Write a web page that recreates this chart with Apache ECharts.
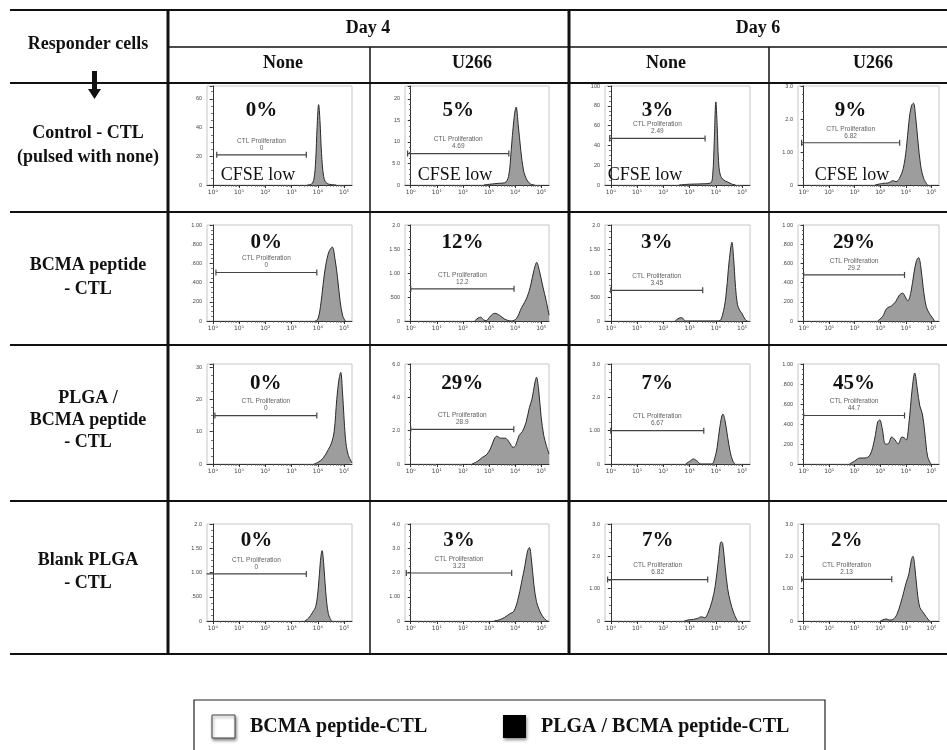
<!DOCTYPE html>
<html>
<head>
<meta charset="utf-8">
<script src="https://cdn.jsdelivr.net/npm/echarts@6.0.0/dist/echarts.min.js"></script>
<style>
html, body { margin: 0; padding: 0; background: #fff; }
#main { width: 947px; height: 750px; }
</style>
</head>
<body>
<div id="main"></div>
<script>
// histograms: [log10 fluorescence, count]
// row 1: Control - CTL
var ctlD4None = [[3.6,0],[3.75,0.5],[3.85,4],[3.92,18],[3.97,40],[4.03,56],[4.08,45],[4.14,22],[4.22,6],[4.32,1.5],[4.5,0.3],[4.7,0]];
var ctlD4U266 = [[2.8,0],[3.2,0.3],[3.4,0.4],[3.6,0.5],[3.75,2],[3.85,8],[3.95,15],[4.04,18.1],[4.12,14],[4.22,8],[4.32,3.5],[4.45,1.2],[4.6,0.2],[4.75,0]];
var ctlD6None = [[2.6,0],[3.0,0.8],[3.5,1.2],[3.8,2],[3.88,10],[3.94,45],[4.0,84],[4.05,60],[4.1,25],[4.17,10],[4.3,5],[4.45,3],[4.6,1],[4.75,0]];
var ctlD6U266 = [[2.8,0],[3.1,0.05],[3.3,0.06],[3.5,0.13],[3.62,0.1],[3.75,0.2],[3.9,0.5],[4.02,1.1],[4.12,1.9],[4.22,2.4],[4.3,2.48],[4.38,2.1],[4.48,1.3],[4.58,0.6],[4.7,0.2],[4.85,0]];
// row 2: BCMA peptide - CTL
var bcmaD4None = [[3.9,0],[4.0,0.02],[4.1,0.15],[4.2,0.38],[4.3,0.58],[4.42,0.72],[4.55,0.77],[4.65,0.65],[4.75,0.45],[4.85,0.2],[4.95,0.05],[5.05,0]];
var bcmaD4U266 = [[2.45,0],[2.58,0.06],[2.68,0.08],[2.8,0.02],[2.9,0.01],[3.05,0.1],[3.22,0.16],[3.4,0.12],[3.6,0.04],[3.85,0],[4.05,0.05],[4.25,0.28],[4.45,0.48],[4.6,0.75],[4.72,1.05],[4.83,1.22],[4.93,1.05],[5.05,0.75],[5.2,0.4],[5.3,0.12]];
var bcmaD6None = [[2.45,0],[2.6,0.06],[2.7,0.07],[2.85,0],[4.12,0],[4.25,0.12],[4.38,0.5],[4.48,1.1],[4.56,1.5],[4.61,1.64],[4.67,1.35],[4.75,0.7],[4.82,0.35],[4.9,0.23],[5.0,0.15],[5.12,0.03],[5.2,0]];
var bcmaD6U266 = [[2.9,0],[3.1,0.05],[3.25,0.13],[3.45,0.16],[3.6,0.2],[3.75,0.27],[3.88,0.29],[3.98,0.25],[4.08,0.21],[4.2,0.3],[4.32,0.5],[4.42,0.63],[4.5,0.66],[4.58,0.58],[4.68,0.35],[4.8,0.15],[4.92,0.08],[5.05,0.03],[5.12,0]];
// row 3: PLGA / BCMA peptide - CTL
var plgaD4None = [[3.85,0],[4.0,0.5],[4.2,1.8],[4.4,4.5],[4.52,6.5],[4.62,10],[4.72,20],[4.8,26],[4.87,28.4],[4.94,22],[5.05,8],[5.15,3],[5.3,0.3]];
var plgaD4U266 = [[2.35,0],[2.55,0.15],[2.75,0.4],[2.9,0.55],[3.05,0.9],[3.2,1.5],[3.3,1.67],[3.45,1.55],[3.62,1.55],[3.78,1.3],[3.92,1.0],[4.02,1.1],[4.15,1.7],[4.28,1.95],[4.42,2.5],[4.55,3.4],[4.65,3.9],[4.75,4.8],[4.82,5.2],[4.9,4.5],[5.0,2.8],[5.1,1.7],[5.2,1.1],[5.3,0.6]];
var plgaD6None = [[2.85,0],[3.0,0.08],[3.15,0.15],[3.3,0.08],[3.42,0],[3.85,0],[3.95,0.15],[4.05,0.5],[4.15,1.1],[4.27,1.5],[4.35,1.3],[4.45,0.8],[4.55,0.35],[4.63,0.12],[4.72,0]];
var plgaD6U266 = [[1.8,0],[2.0,0.03],[2.2,0.06],[2.4,0.06],[2.6,0.09],[2.78,0.25],[2.9,0.42],[2.98,0.44],[3.08,0.35],[3.2,0.2],[3.3,0.2],[3.45,0.27],[3.58,0.24],[3.7,0.2],[3.85,0.27],[3.95,0.26],[4.02,0.24],[4.12,0.4],[4.25,0.75],[4.35,0.91],[4.45,0.75],[4.55,0.58],[4.65,0.5],[4.75,0.3],[4.85,0.08],[4.98,0]];
// row 4: Blank PLGA - CTL
var blankD4None = [[3.5,0],[3.65,0.06],[3.8,0.18],[3.92,0.3],[4.02,0.7],[4.1,1.25],[4.16,1.45],[4.22,1.2],[4.3,0.6],[4.4,0.15],[4.52,0]];
var blankD4U266 = [[3.2,0],[3.4,0.05],[3.6,0.15],[3.8,0.3],[3.95,0.4],[4.1,0.85],[4.25,1.6],[4.38,2.3],[4.48,2.9],[4.55,3.03],[4.62,2.6],[4.72,1.5],[4.82,0.8],[4.93,0.45],[5.05,0.2],[5.2,0.02],[5.25,0]];
var blankD6None = [[2.8,0],[3.0,0.04],[3.15,0.05],[3.3,0.08],[3.45,0.13],[3.58,0.1],[3.7,0.25],[3.85,0.6],[3.98,1.1],[4.1,1.9],[4.2,2.45],[4.26,2.4],[4.35,1.7],[4.45,1.0],[4.55,0.6],[4.68,0.25],[4.82,0]];
var blankD6U266 = [[3.0,0],[3.15,0.05],[3.25,0.06],[3.35,0.03],[3.5,0.05],[3.65,0.2],[3.8,0.55],[3.92,0.9],[4.02,1.2],[4.12,1.45],[4.22,1.9],[4.28,2.0],[4.35,1.7],[4.45,0.9],[4.55,0.42],[4.65,0.3],[4.78,0.15],[4.93,0]];

var panels = [ctlD4None, ctlD4U266, ctlD6None, ctlD6U266,
              bcmaD4None, bcmaD4U266, bcmaD6None, bcmaD6U266,
              plgaD4None, plgaD4U266, plgaD6None, plgaD6U266,
              blankD4None, blankD4U266, blankD6None, blankD6U266];

var percentLabels = ['0%','5%','3%','9%', '0%','12%','3%','29%', '0%','29%','7%','45%', '0%','3%','7%','2%'];
var gateValues = ['0','4.69','2.49','6.82', '0','12.2','3.45','29.2', '0','28.9','6.67','44.7', '0','3.23','6.82','2.13'];
var gateFrom = [0.15,-0.12,-0.04,-0.08, 0.12,0,0,0, 0.08,0,0,0, -0.24,-0.17,-0.12,-0.08];
var gateTo = [3.56,3.76,3.59,3.76, 3.96,3.96,3.5,3.95, 3.96,3.95,3.54,3.95, 3.56,3.87,3.69,3.45];
var gateY = [21,7.3,47,1.28, 0.505,0.67,0.64,0.48, 15,2.08,1.0,0.485, 0.97,1.98,1.28,1.29];

var yMax = [69,23,100,3, 1,2,2,1, 31,6,3,1, 2,4,3,3];
var yStep = [20,5,20,1, 0.2,0.5,0.5,0.2, 10,2,1,0.2, 0.5,1,1,1];
var ticks20 = ['0','20','40','60','80','100'];
var ticks5 = ['0','5.0','10','15','20'];
var ticks1 = ['0','1.00','2.0','3.0','4.0'];
var ticksFrac = ['0','.200','.400','.600','.800','1.00'];
var ticksHalf = ['0','.500','1.00','1.50','2.0'];
var ticks10 = ['0','10','20','30'];
var ticks2 = ['0','2.0','4.0','6.0'];
var yTickSets = [ticks20, ticks5, ticks20, ticks1, ticksFrac, ticksHalf, ticksHalf, ticksFrac,
                 ticks10, ticks2, ticks1, ticksFrac, ticksHalf, ticks1, ticks1, ticks1];

var decades = [0, 1, 2, 3, 4, 5];
var decadeLabels = ['10⁰','10¹','10²','10³','10⁴','10⁵'];

var rowNames = ['Control - CTL\n(pulsed with none)', 'BCMA peptide\n- CTL', 'PLGA /\nBCMA peptide\n- CTL', 'Blank PLGA\n- CTL'];
var colNames = ['None', 'U266', 'None', 'U266'];
var dayNames = ['Day 4', 'Day 6'];
var legendNames = ['BCMA peptide-CTL', 'PLGA / BCMA peptide-CTL'];

// layout
var X_MIN = -0.22, X_MAX = 5.3;
var colLeft = [207, 405, 605, 798];
var colWidth = [145, 144, 145, 141];
var rowTop = [86, 225, 364, 524];
var rowHeight = [99, 96, 100, 97];
var pctY = [111, 243, 384, 541];
var cfseOffset = [51, 50, 40, 54];
var SERIF = '"Liberation Serif", "Times New Roman", serif';
var SANS = '"Liberation Sans", Arial, sans-serif';

var minorDecades = [];
for (var d = 0; d < 6; d++) {
    for (var k = 2; k < 10; k++) {
        var m = d + Math.log10(k);
        if (m < X_MAX) minorDecades.push(m);
    }
}

var myChart = echarts.init(document.getElementById('main'));

var grids = [], xAxes = [], yAxes = [], series = [];
for (var i = 0; i < 16; i++) {
    var r = Math.floor(i / 4), c = i % 4;
    grids.push({
        left: colLeft[c], top: rowTop[r], width: colWidth[c], height: rowHeight[r],
        show: true, borderColor: '#c6c6c6', borderWidth: 1
    });
    xAxes.push({
        gridIndex: i, type: 'value', min: X_MIN, max: X_MAX, position: 'bottom',
        axisLine: { onZero: false, lineStyle: { color: '#333', width: 1 } },
        axisTick: { customValues: decades, length: 3, lineStyle: { color: '#333' } },
        axisLabel: {
            customValues: decades, fontSize: 6, color: '#444', margin: 4, fontFamily: '"DejaVu Sans", sans-serif',
            formatter: function (v) { return decadeLabels[Math.round(v)]; }
        },
        splitLine: { show: false }
    });
    xAxes.push({
        gridIndex: i, type: 'value', min: X_MIN, max: X_MAX, position: 'bottom',
        axisLine: { show: false, onZero: false },
        axisTick: { customValues: minorDecades, length: 1.6, lineStyle: { color: '#555' } },
        axisLabel: { show: false },
        splitLine: { show: false }
    });
    (function (step, labels) {
        yAxes.push({
            gridIndex: i, type: 'value', min: 0, max: yMax[i], interval: step,
            axisLine: { show: true, lineStyle: { color: '#333', width: 1 } },
            axisTick: { show: true, length: 3, lineStyle: { color: '#333' } },
            minorTick: { show: true, splitNumber: 4, length: 1.6, lineStyle: { color: '#555' } },
            axisLabel: {
                fontSize: 5.5, color: '#444', margin: 5, fontFamily: SANS,
                formatter: function (v) {
                    var n = Math.round(v / step);
                    return Math.abs(n * step - v) < 1e-6 ? (labels[n] || '') : '';
                }
            },
            splitLine: { show: false }
        });
    })(yStep[i], yTickSets[i]);

    series.push({
        type: 'line', xAxisIndex: 2 * i, yAxisIndex: i, data: panels[i],
        smooth: 0.35, showSymbol: false, silent: true, z: 2,
        lineStyle: { color: '#2a2a2a', width: 1 },
        areaStyle: { color: '#9d9d9d', opacity: 1 }
    });
    series.push({
        type: 'line', xAxisIndex: 2 * i, yAxisIndex: i,
        data: [[gateFrom[i], gateY[i]], [gateTo[i], gateY[i]]],
        symbol: 'rect', symbolSize: [1.2, 6], showSymbol: true, silent: true, z: 3,
        itemStyle: { color: '#444' },
        lineStyle: { color: '#444', width: 1.2 }
    });
    series.push({
        type: 'scatter', xAxisIndex: 2 * i, yAxisIndex: i,
        data: [[(gateFrom[i] + gateTo[i]) / 2, gateY[i]]],
        symbolSize: 1, itemStyle: { color: 'rgba(0,0,0,0)' }, silent: true, z: 4,
        label: {
            show: true, position: 'top', distance: 3,
            formatter: 'CTL Proliferation\n' + gateValues[i],
            fontSize: 6.5, lineHeight: 7, color: '#333', fontFamily: SANS
        }
    });
}

option = {
    animation: false,
    backgroundColor: '#fff',
    grid: grids,
    xAxis: xAxes,
    yAxis: yAxes,
    series: series
};
myChart.setOption(option, true);

// table frame, headers, legend
function hline(y, x1, x2, w) {
    return { type: 'line', shape: { x1: x1, y1: y, x2: x2, y2: y }, style: { stroke: '#111', lineWidth: w }, z: 10 };
}
function vline(x, y1, y2, w) {
    return { type: 'line', shape: { x1: x, y1: y1, x2: x, y2: y2 }, style: { stroke: '#111', lineWidth: w }, z: 10 };
}
function label(txt, x, y, font, lh, align) {
    return {
        type: 'text', x: x, y: y, z: 11,
        style: {
            text: txt, font: font, fill: '#111', lineHeight: lh,
            align: align || 'center', textAlign: align || 'center',
            verticalAlign: 'middle', textVerticalAlign: 'middle'
        }
    };
}

var g = [];
g.push(hline(10, 10, 947, 2));
g.push(hline(47, 168, 947, 1.5));
g.push(hline(83, 10, 947, 2));
[212, 345, 501, 654].forEach(function (y) { g.push(hline(y, 10, 947, 2)); });
g.push(vline(168, 10, 655, 3));
g.push(vline(569, 10, 655, 3));
g.push(vline(370, 47, 655, 1.5));
g.push(vline(769, 47, 655, 1.5));

var BOLD18 = 'bold 18px ' + SERIF;
g.push(label('Responder cells', 88, 44, BOLD18, 20));
g.push({ type: 'rect', shape: { x: 92, y: 71, width: 5, height: 19 }, style: { fill: '#111' }, z: 11 });
g.push({ type: 'polygon', shape: { points: [[88, 89], [101, 89], [94.5, 99]] }, style: { fill: '#111' }, z: 11 });
g.push(label(dayNames[0], 368, 28, BOLD18, 20));
g.push(label(dayNames[1], 758, 28, BOLD18, 20));
var colX = [283, 472, 666, 873];
colNames.forEach(function (n, j) { g.push(label(n, colX[j], 63, BOLD18, 20)); });
var rowY = [145, 277, 420, 572];
var rowLH = [24, 24, 22, 23];
rowNames.forEach(function (n, j) { g.push(label(n, 88, rowY[j], BOLD18, rowLH[j])); });

for (var p = 0; p < 16; p++) {
    var rr = Math.floor(p / 4), cc = p % 4;
    var px = myChart.convertToPixel({ xAxisIndex: 2 * p }, (gateFrom[p] + gateTo[p]) / 2);
    g.push(label(percentLabels[p], px, pctY[rr], 'bold 21px ' + SERIF, 22));
    if (rr === 0) {
        g.push(label('CFSE low', colLeft[cc] + cfseOffset[cc], 175, '18px ' + SERIF, 20));
    }
}

// legend box
g.push({ type: 'rect', shape: { x: 194, y: 700, width: 631, height: 70 }, style: { fill: 'none', stroke: '#222', lineWidth: 1.2 }, z: 10 });
g.push({
    type: 'rect', shape: { x: 212, y: 715, width: 23, height: 23 }, z: 11,
    style: { fill: '#fff', stroke: '#444', lineWidth: 1, shadowBlur: 3, shadowOffsetX: 1, shadowOffsetY: 2, shadowColor: 'rgba(0,0,0,0.45)' }
});
g.push(label(legendNames[0], 250, 727, 'bold 20px ' + SERIF, 22, 'left'));
g.push({
    type: 'rect', shape: { x: 503, y: 715, width: 23, height: 23 }, z: 11,
    style: { fill: '#000', shadowBlur: 3, shadowOffsetX: 1, shadowOffsetY: 2, shadowColor: 'rgba(0,0,0,0.45)' }
});
g.push(label(legendNames[1], 541, 727, 'bold 20px ' + SERIF, 22, 'left'));

myChart.setOption({ graphic: g });

window.onresize = function () {
    myChart.resize();
};
</script>
</body>
</html>
